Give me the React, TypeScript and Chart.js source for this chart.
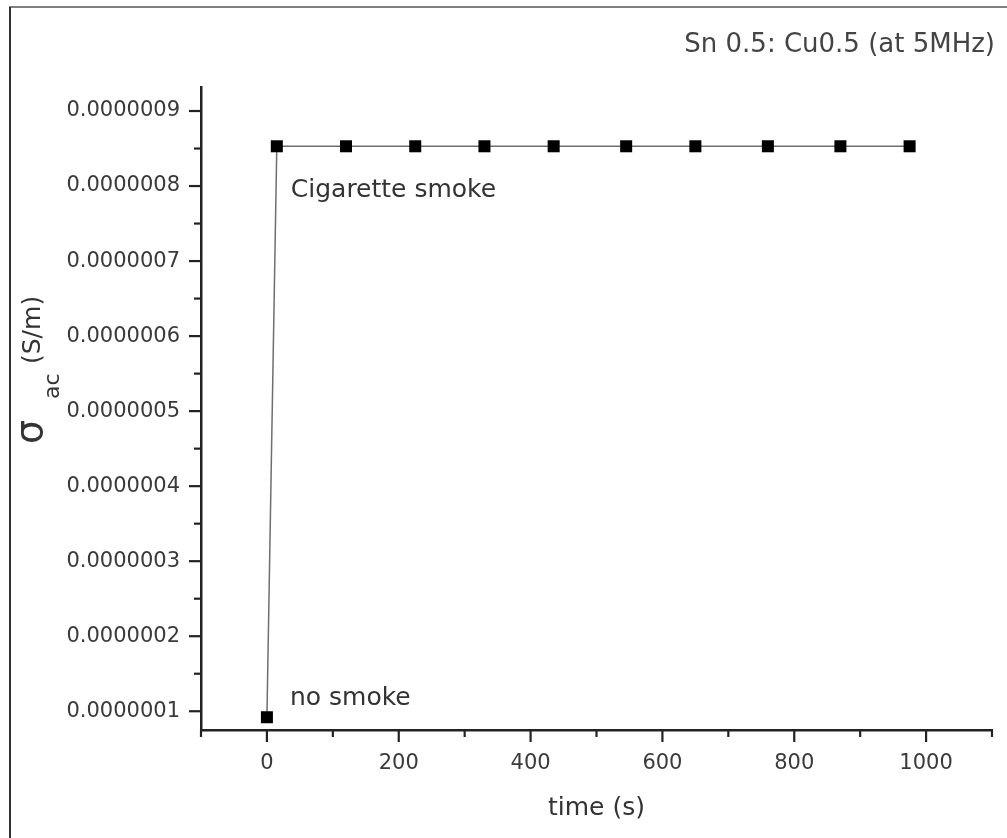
import React, { useEffect, useRef } from 'react';
import { Chart, registerables } from 'chart.js';

Chart.register(...registerables);

// ---- data ----
const timeValues = [0, 15, 120, 225, 330, 435, 545, 650, 760, 870, 975];
const sigmaValues = [
  0.000000092, 0.000000853, 0.000000853, 0.000000853, 0.000000853, 0.000000853,
  0.000000853, 0.000000853, 0.000000853, 0.000000853, 0.000000853,
];
const xTickValues = [0, 200, 400, 600, 800, 1000];
const yTickValues = [
  0.0000001, 0.0000002, 0.0000003, 0.0000004, 0.0000005, 0.0000006, 0.0000007,
  0.0000008, 0.0000009,
];
const xRange = [-100, 1100];
const yRange = [0.000000075, 0.000000932];
const xMinorStep = 100;
const yMinorStep = 0.00000005;
const titleText = 'Sn 0.5: Cu0.5 (at 5MHz)';
const xAxisTitle = 'time (s)';
const annotationTexts = ['no smoke', 'Cigarette smoke'];
const annotationIndices = [0, 1];

const FONT = "'DejaVu Sans', sans-serif";

function isMajor(v: number, majors: number[]) {
  return majors.some((m) => Math.abs(m - v) < Math.abs(m) * 1e-6 + 1e-12);
}

const decorPlugin = {
  id: 'decor',
  afterDraw(chart: any) {
    const ctx = chart.ctx as CanvasRenderingContext2D;
    const xs = chart.scales.x;
    const ys = chart.scales.y;
    const area = chart.chartArea;
    ctx.save();
    // ticks
    ctx.strokeStyle = '#222';
    ctx.lineWidth = 2.2;
    const kx0 = Math.ceil(xRange[0] / xMinorStep - 1e-9);
    const kx1 = Math.floor(xRange[1] / xMinorStep + 1e-9);
    for (let k = kx0; k <= kx1; k++) {
      const v = k * xMinorStep;
      const px = xs.getPixelForValue(v);
      const len = isMajor(v, xTickValues) || v === 0 ? 12 : 7;
      ctx.beginPath();
      ctx.moveTo(px, area.bottom);
      ctx.lineTo(px, area.bottom + len);
      ctx.stroke();
    }
    const ky0 = Math.ceil(yRange[0] / yMinorStep - 1e-9);
    const ky1 = Math.floor(yRange[1] / yMinorStep + 1e-9);
    for (let k = ky0; k <= ky1; k++) {
      const v = k * yMinorStep;
      const py = ys.getPixelForValue(v);
      const len = isMajor(v, yTickValues) ? 12 : 7;
      ctx.beginPath();
      ctx.moveTo(area.left, py);
      ctx.lineTo(area.left - len, py);
      ctx.stroke();
    }

    // title
    ctx.fillStyle = '#444';
    ctx.font = `26px ${FONT}`;
    ctx.textAlign = 'right';
    ctx.textBaseline = 'alphabetic';
    ctx.fillText(titleText, chart.width - 12, 52);

    // annotations
    const meta = chart.getDatasetMeta(0);
    ctx.fillStyle = '#333';
    ctx.font = `25px ${FONT}`;
    ctx.textAlign = 'left';
    const p0 = meta.data[annotationIndices[0]];
    ctx.fillText(annotationTexts[0], p0.x + 23, p0.y - 12);
    const p1 = meta.data[annotationIndices[1]];
    ctx.fillText(annotationTexts[1], p1.x + 14, p1.y + 51);

    // x axis title
    ctx.textAlign = 'center';
    ctx.textBaseline = 'middle';
    ctx.fillStyle = '#333';
    ctx.font = `25px ${FONT}`;
    ctx.fillText(xAxisTitle, (area.left + area.right) / 2, area.bottom + 78);

    // y axis title: sigma_ac (S/m)
    ctx.translate(42, area.top + 356);
    ctx.rotate(-Math.PI / 2);
    ctx.textAlign = 'left';
    ctx.textBaseline = 'alphabetic';
    ctx.font = `38px ${FONT}`;
    ctx.fillText('\u03C3', -1, 0);
    ctx.font = `22px ${FONT}`;
    ctx.fillText('ac', 44, 17);
    ctx.font = `25px ${FONT}`;
    ctx.fillText('(S/m)', 79, -2);
    ctx.restore();
  },
};

export default function App() {
  const canvasRef = useRef<HTMLCanvasElement | null>(null);

  useEffect(() => {
    if (!canvasRef.current) return;
    Chart.defaults.font.family = FONT;
    const chart = new Chart(canvasRef.current, {
      type: 'line',
      data: {
        datasets: [
          {
            data: timeValues.map((t, i) => ({ x: t, y: sigmaValues[i] })),
            borderColor: '#6e6e6e',
            borderWidth: 1.5,
            pointStyle: 'rect',
            pointRadius: 8.5,
            pointBackgroundColor: '#000',
            pointBorderColor: '#000',
            pointBorderWidth: 0,
            tension: 0,
            fill: false,
          },
        ],
      },
      options: {
        animation: false,
        responsive: false,
        events: [],
        layout: { padding: { top: 87, right: 15, left: 0, bottom: 0 } },
        plugins: {
          legend: { display: false },
          tooltip: { enabled: false },
          title: { display: false },
        },
        scales: {
          x: {
            type: 'linear',
            min: xRange[0],
            max: xRange[1],
            grid: { display: false, drawTicks: false },
            border: { display: true, color: '#222', width: 2.5 },
            afterBuildTicks: (scale: any) => {
              scale.ticks = xTickValues.map((v) => ({ value: v }));
            },
            afterFit: (scale: any) => {
              scale.height = 108;
            },
            ticks: {
              color: '#3a3a3a',
              font: { size: 21, family: FONT },
              padding: 21,
              maxRotation: 0,
              autoSkip: false,
              callback: (v: any) => String(v),
            },
          },
          y: {
            type: 'linear',
            min: yRange[0],
            max: yRange[1],
            grid: { display: false, drawTicks: false },
            border: { display: true, color: '#222', width: 2.5 },
            afterBuildTicks: (scale: any) => {
              scale.ticks = yTickValues.map((v) => ({ value: v }));
            },
            afterFit: (scale: any) => {
              scale.width = 201;
            },
            ticks: {
              color: '#3a3a3a',
              font: { size: 21, family: FONT },
              padding: 21,
              autoSkip: false,
              callback: (v: any) => Number(v).toFixed(7),
            },
          },
        },
      },
      plugins: [decorPlugin],
    });
    return () => chart.destroy();
  }, []);

  return (
    <div
      style={{
        position: 'absolute',
        left: 0,
        top: 0,
        width: 1007,
        height: 838,
        background: '#fff',
        overflow: 'hidden',
      }}
    >
      <canvas
        ref={canvasRef}
        width={1007}
        height={838}
        style={{ position: 'absolute', left: 0, top: 0, width: 1007, height: 838 }}
      />
      <div
        style={{
          position: 'absolute',
          left: 9,
          top: 6,
          right: 0,
          height: 2,
          background: '#7f7f7f',
        }}
      />
      <div
        style={{
          position: 'absolute',
          left: 9,
          top: 7,
          bottom: 0,
          width: 2,
          background: '#333',
        }}
      />
    </div>
  );
}
